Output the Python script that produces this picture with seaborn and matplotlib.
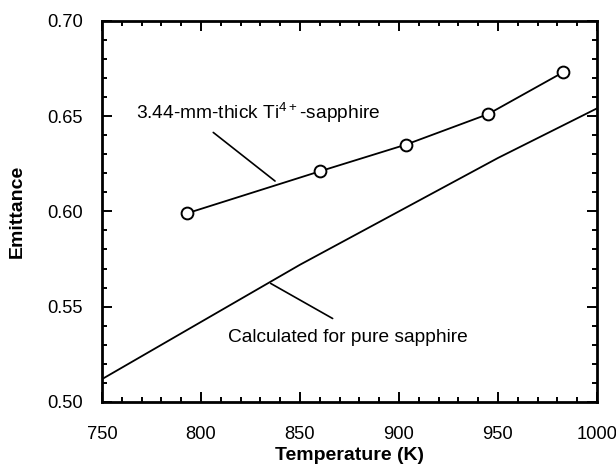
import numpy as np
import pandas as pd
import matplotlib
matplotlib.use("Agg")
import matplotlib.pyplot as plt
from matplotlib.ticker import MultipleLocator
import seaborn as sns

# measured Ti4+-sapphire sample
temp_meas = [793, 860, 903.5, 945, 983]
emit_meas = [0.599, 0.621, 0.635, 0.651, 0.673]

# calculated for pure sapphire
temp_calc = [750, 800, 850, 900, 950, 1000]
emit_calc = [0.512, 0.542, 0.572, 0.600, 0.628, 0.654]

sns.set_style("ticks")
plt.rcParams['font.family'] = ['Liberation Sans', 'DejaVu Sans']
plt.rcParams['mathtext.fontset'] = 'custom'
plt.rcParams['mathtext.rm'] = 'Liberation Sans'
plt.rcParams['text.color'] = 'black'
plt.rcParams['axes.labelcolor'] = 'black'

fig = plt.figure(figsize=(6.16, 4.71), dpi=100)
ax = fig.add_axes([0.1656, 0.1465, 0.8034, 0.8095])

df_meas = pd.DataFrame({'T': temp_meas, 'E': emit_meas})
df_calc = pd.DataFrame({'T': temp_calc, 'E': emit_calc})

sns.lineplot(data=df_calc, x='T', y='E', ax=ax, color='black', linewidth=1.3)
sns.lineplot(data=df_meas, x='T', y='E', ax=ax, color='black', linewidth=1.3,
             marker='o', markersize=8.5, markerfacecolor='white',
             markeredgecolor='black', markeredgewidth=1.4)

ax.set_xlim(750, 1000)
ax.set_ylim(0.50, 0.70)
ax.xaxis.set_major_locator(MultipleLocator(50))
ax.xaxis.set_minor_locator(MultipleLocator(10))
ax.yaxis.set_major_locator(MultipleLocator(0.05))
ax.yaxis.set_minor_locator(MultipleLocator(0.01))
ax.yaxis.set_major_formatter(matplotlib.ticker.FormatStrFormatter('%.2f'))

ax.tick_params(which='both', direction='in', top=True, right=True, width=1.4,
               labelsize=13.2, colors='black', labelcolor='black')
ax.tick_params(which='major', length=7)
ax.tick_params(which='minor', length=3.5)
ax.tick_params(axis='x', which='major', pad=17)
ax.tick_params(axis='y', which='major', pad=14)
for s in ax.spines.values():
    s.set_linewidth(2)
    s.set_color('black')

ax.set_xlabel('Temperature (K)', fontsize=14, fontweight='bold', labelpad=3)
ax.set_ylabel('Emittance', fontsize=14, fontweight='bold', labelpad=15)

ax.text(767.2, 0.652, r'3.44-mm-thick Ti$^{4+}$-sapphire', fontsize=13.8,
        va='center', ha='left')
ax.plot([806.2, 837.4], [0.6414, 0.6159], color='black', linewidth=1.2)

ax.text(813.8, 0.5338, 'Calculated for pure sapphire', fontsize=13.8,
        va='center', ha='left')
ax.plot([866.5, 835.2], [0.5438, 0.5622], color='black', linewidth=1.2)

fig.savefig('out.png', dpi=100)
